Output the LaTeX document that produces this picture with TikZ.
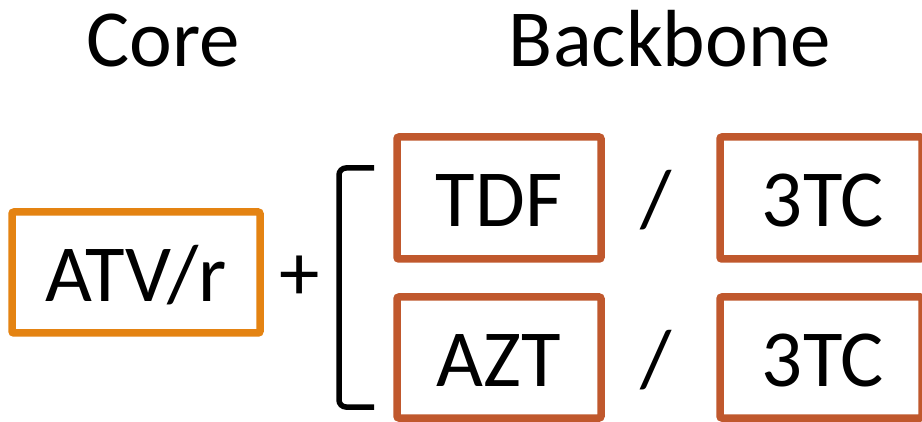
\documentclass[tikz,border=0pt]{standalone}
\usepackage{fontspec}
\setmainfont{Carlito}
\definecolor{coreorange}{RGB}{228,131,18}
\definecolor{bbrown}{RGB}{192,88,45}
\begin{document}
\begin{tikzpicture}[x=1pt,y=-1pt,
  box/.style={draw, line width=7.5pt, rounded corners=2pt, inner sep=0pt, fill=white},
  corebox/.style={box, draw=coreorange},
  bbbox/.style={box, draw=bbrown},
  lbl/.style={anchor=base, font=\fontsize{81}{90}\selectfont, inner sep=0pt},
  brack/.style={draw=black, line width=5.5pt, rounded corners=7pt}]
\useasboundingbox (0,0) rectangle (922,422);
% headers
\node[lbl] (core) at (163,67) {Core};
\node[lbl] (backbone) at (670,67) {Backbone};
% core box
\node[corebox, minimum width=248pt, minimum height=121pt] (atvbox) at (136,272.5) {};
\node[lbl] (atv) at (136,302) {ATV/r};
% plus
\node[font=\fontsize{81}{90}\selectfont, inner sep=0pt] (plus) at (300,278) {+};
% bracket
\coordinate (bt) at (374,168);
\coordinate (bb) at (374,407);
\draw[brack] (bt) -| (339,407) -- (bb);
% backbone boxes
\node[bbbox, minimum width=204pt, minimum height=122pt] (tdfbox) at (499,198) {};
\node[lbl] (tdf) at (499,227) {TDF};
\node[bbbox, minimum width=204pt, minimum height=121pt] (aztbox) at (499,357.5) {};
\node[lbl] (azt) at (499,387) {AZT};
\node[bbbox, minimum width=202pt, minimum height=122pt] (tcbox1) at (821,198) {};
\node[lbl] (tc1) at (823,227) {3TC};
\node[bbbox, minimum width=202pt, minimum height=121pt] (tcbox2) at (821,357.5) {};
\node[lbl] (tc2) at (823,387) {3TC};
% slashes
\node[lbl] (sl1) at (656,227) {/};
\node[lbl] (sl2) at (656,387) {/};
\end{tikzpicture}
\end{document}
